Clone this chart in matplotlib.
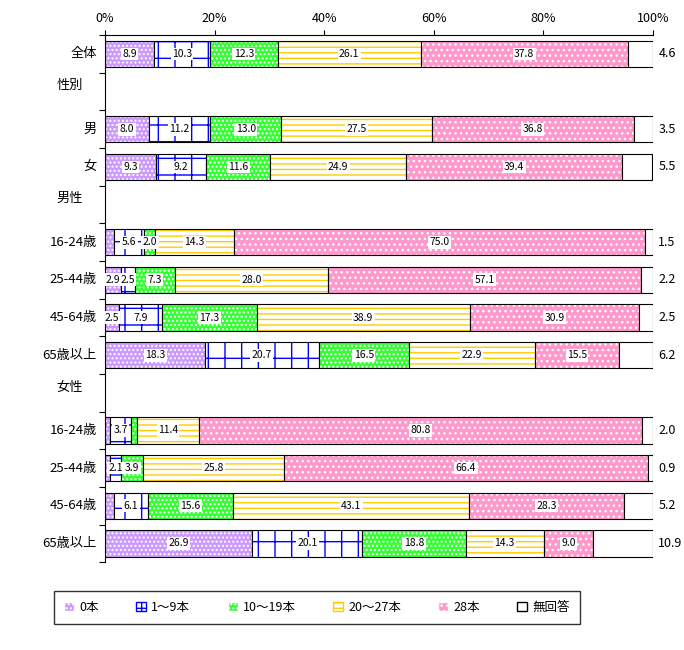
import matplotlib.pyplot as plt
import numpy as np

plt.rcParams['font.family'] = ['Noto Sans CJK JP', 'DejaVu Sans']

# row labels (None data = header row)
rows = ["全体", "性別", "男", "女", "男性", "16-24歳", "25-44歳", "45-64歳", "65歳以上",
        "女性", "16-24歳", "25-44歳", "45-64歳", "65歳以上"]
headers = ["性別", "男性", "女性"]
series = ["0本", "1～9本", "10～19本", "20～27本", "28本", "無回答"]

zero = [8.9, None, 8.0, 9.3, None, 1.6, 2.9, 2.5, 18.3, None, 1.0, 0.9, 1.7, 26.9]
one_nine = [10.3, None, 11.2, 9.2, None, 5.6, 2.5, 7.9, 20.7, None, 3.7, 2.1, 6.1, 20.1]
ten_19 = [12.3, None, 13.0, 11.6, None, 2.0, 7.3, 17.3, 16.5, None, 1.1, 3.9, 15.6, 18.8]
twenty_27 = [26.1, None, 27.5, 24.9, None, 14.3, 28.0, 38.9, 22.9, None, 11.4, 25.8, 43.1, 14.3]
twenty8 = [37.8, None, 36.8, 39.4, None, 75.0, 57.1, 30.9, 15.5, None, 80.8, 66.4, 28.3, 9.0]
no_answer = [4.6, None, 3.5, 5.5, None, 1.5, 2.2, 2.5, 6.2, None, 2.0, 0.9, 5.2, 10.9]

data = [zero, one_nine, ten_19, twenty_27, twenty8, no_answer]
# (face, hatch, hatch colour)
styles = [("#CC99FF", "....", "white"),
          ("white", "+", "#0000FF"),
          ("#33FF33", "....", "white"),
          ("white", "---", "#FFCC00"),
          ("#FF99CC", "...", "white"),
          ("white", "", "white")]

fig = plt.figure(figsize=(6.84, 6.5), dpi=100)
ax = fig.add_axes([0.1535, 0.135, 0.801, 0.811])

y = np.arange(len(rows))
h = 0.7
plt.rcParams['hatch.linewidth'] = 1.0
for i in range(len(rows)):
    if zero[i] is None:
        continue
    left = 0
    for s, vals in enumerate(data):
        v = vals[i]
        face, hatch, hc = styles[s]
        ax.barh(y[i], v, left=left, height=h, color=face, hatch=hatch, edgecolor=hc, linewidth=0)
        ax.barh(y[i], v, left=left, height=h, fill=False, edgecolor="black", linewidth=0.8)
        if s < 5 and v >= 2.0:
            ax.text(left + v / 2, y[i], f"{v:.1f}", ha="center", va="center", fontsize=7.5,
                    bbox=dict(facecolor="white", edgecolor="none", pad=1))
        left += v
    ax.text(101, y[i], f"{no_answer[i]:.1f}", ha="left", va="center", fontsize=9)

ax.set_xlim(0, 100)
ax.set_ylim(len(rows) - 0.5, -0.5)
ax.xaxis.tick_top()
ax.set_xticks(range(0, 101, 20))
ax.set_xticklabels([f"{t}%" for t in range(0, 101, 20)], fontsize=9)
ax.set_yticks(np.arange(len(rows) + 1) - 0.5)
ax.set_yticklabels([])
ax.tick_params(axis="y", length=4)
for sp in ["right", "bottom"]:
    ax.spines[sp].set_visible(False)

for i, r in enumerate(rows):
    if r in headers:
        ax.text(-8.8, y[i] - 0.15, r, ha="left", va="center", fontsize=9.5)
    else:
        ax.text(-1.5, y[i], r, ha="right", va="center", fontsize=9.5)

# legend
handles = [plt.Rectangle((0, 0), 1, 1, facecolor=f, hatch=hh, edgecolor=(c if hh else "black"))
           for f, hh, c in styles]
leg = fig.legend(handles, series, loc="lower left", bbox_to_anchor=(48 / 684, 20 / 650), ncol=6,
                 fontsize=9, frameon=True, fancybox=False, edgecolor="black", handlelength=0.8,
                 handleheight=0.8, columnspacing=3.0, handletextpad=0.4, borderpad=0.8)

fig.savefig("out.png", dpi=100)
